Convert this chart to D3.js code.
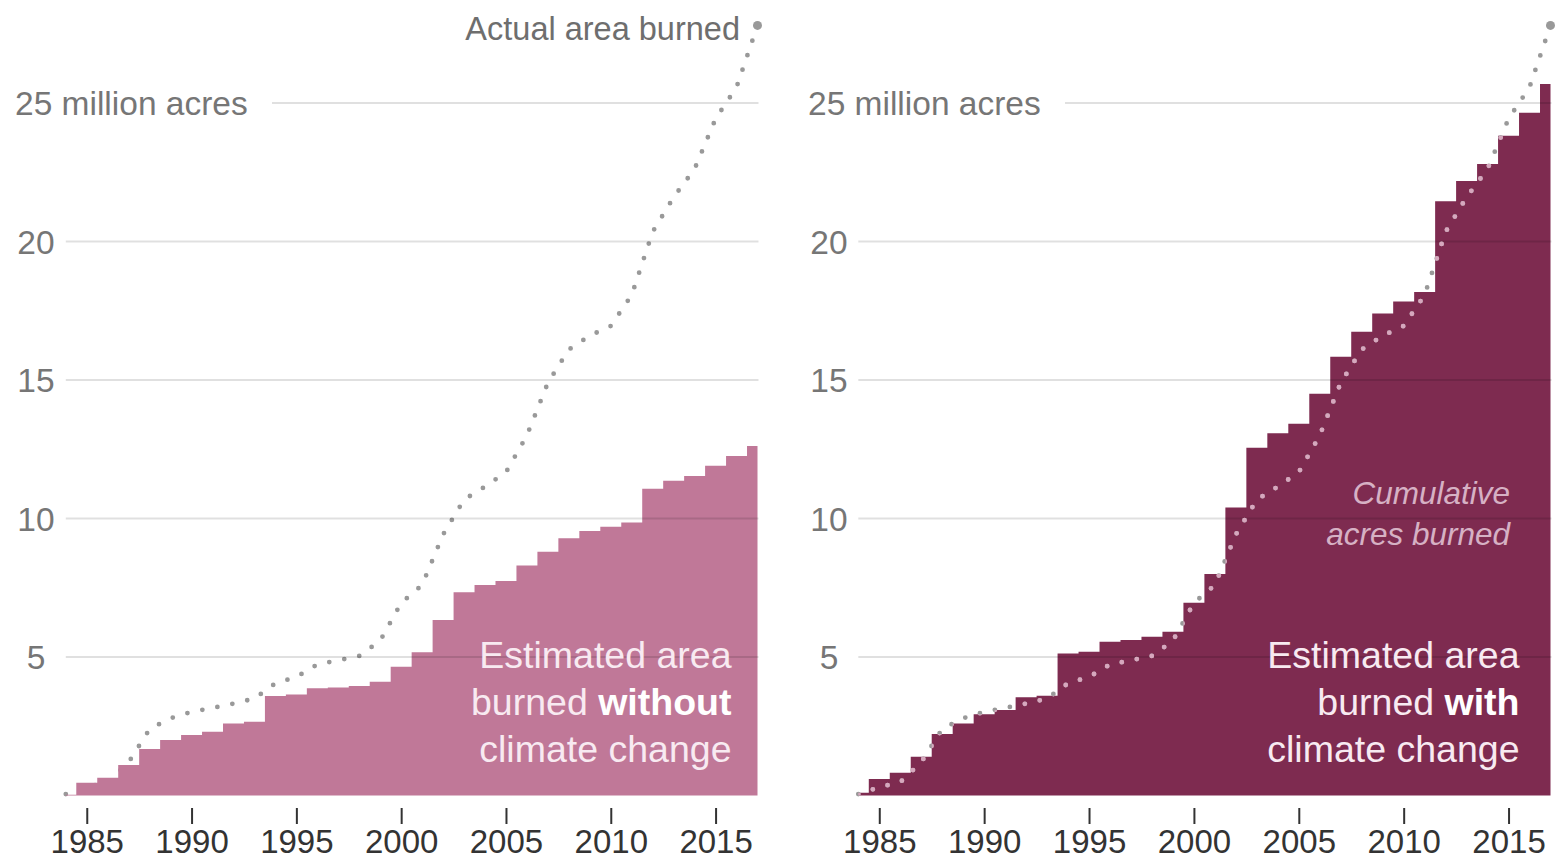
<!DOCTYPE html>
<html>
<head>
<meta charset="utf-8">
<script src="https://cdn.jsdelivr.net/npm/d3@7"></script>
<style>
  html, body { margin: 0; padding: 0; background: #fff; }
  svg { display: block; font-family: "Liberation Sans", Arial, sans-serif; }
</style>
</head>
<body>
<svg id="chart" width="1555" height="861"></svg>
<script>
// ---------------- DATA ----------------
const years = [1984, 1985, 1986, 1987, 1988, 1989, 1990, 1991, 1992, 1993,
               1994, 1995, 1996, 1997, 1998, 1999, 2000, 2001, 2002, 2003,
               2004, 2005, 2006, 2007, 2008, 2009, 2010, 2011, 2012, 2013,
               2014, 2015, 2016, 2017];

// Actual cumulative area burned (million acres)
const actualBurned = [0.05, 0.3, 0.48, 1.2, 2.4, 2.79, 3.02, 3.16, 3.32, 3.5,
                      4.05, 4.28, 4.73, 4.88, 5.04, 5.59, 6.95, 7.6, 9.42, 10.68,
                      11.15, 11.67, 13.0, 14.9, 16.1, 16.6, 16.95, 18.07, 20.35, 21.6,
                      22.62, 24.43, 25.57, 27.8];

// Estimated cumulative area burned without climate change
const withoutClimateChange = [0.03, 0.46, 0.64, 1.1, 1.68, 2.0, 2.18, 2.3, 2.6, 2.66,
                              3.59, 3.65, 3.87, 3.9, 3.95, 4.11, 4.65, 5.17, 6.34, 7.34,
                              7.6, 7.74, 8.3, 8.8, 9.29, 9.55, 9.7, 9.86, 11.07, 11.36,
                              11.53, 11.9, 12.26, 12.62];

// Estimated cumulative area burned with climate change
const withClimateChange = [0.1, 0.6, 0.82, 1.4, 2.22, 2.6, 2.93, 3.09, 3.55, 3.6,
                           5.13, 5.19, 5.55, 5.61, 5.73, 5.91, 6.96, 8.0, 10.4, 12.55,
                           13.08, 13.42, 14.5, 15.84, 16.74, 17.4, 17.83, 18.18, 21.45, 22.18,
                           22.8, 23.82, 24.65, 25.69];

const xTicks = [1985, 1990, 1995, 2000, 2005, 2010, 2015];
const yTicks = [5, 10, 15, 20, 25];
const yTickLabels = ["5", "10", "15", "20", "25 million acres"];

// ---------------- LAYOUT ----------------
const svg = d3.select("#chart");
const y = d3.scaleLinear().domain([0, 25]).range([795.5, 103]);

const panels = [
  { id: "without", x0: 65.8, x1: 757.5, labelX: 15, fill: "#c07898",
    values: withoutClimateChange, bold: "without", textEnd: 731.5, dotsOver: false },
  { id: "with", x0: 858.3, x1: 1550.5, labelX: 808, fill: "#7e2b50",
    values: withClimateChange, bold: "with", textEnd: 1519.5, dotsOver: true }
];

panels.forEach((p, pi) => {
  const g = svg.append("g");
  const x = d3.scaleLinear().domain([1984, 2017]).range([p.x0, p.x1]);

  const series = years.map((yr, i) => ({ yr, v: p.values[i], a: actualBurned[i] }));

  const area = d3.area()
    .x(d => x(d.yr)).y0(y(0)).y1(d => y(d.v))
    .curve(d3.curveStep);
  const line = d3.line()
    .x(d => x(d.yr)).y(d => y(d.a));

  const dotStyle = sel => sel
    .attr("fill", "none")
    .attr("stroke-width", 4.8)
    .attr("stroke-linecap", "round")
    .attr("stroke-dasharray", "0 15.3");

  if (!p.dotsOver) {
    g.append("path").datum(series).attr("d", line).call(dotStyle).attr("stroke", "#999");
  }

  g.append("path").datum(series).attr("d", area).attr("fill", p.fill);

  // gridlines
  yTicks.forEach((t, i) => {
    const startX = t === 25 ? p.labelX + 257 : p.x0;
    g.append("line")
      .attr("x1", startX).attr("x2", p.x1 + 1)
      .attr("y1", y(t)).attr("y2", y(t))
      .attr("stroke", "#000").attr("stroke-opacity", 0.12).attr("stroke-width", 2);
    g.append("text")
      .attr("x", t === 25 ? p.labelX : p.labelX + 21)
      .attr("y", y(t))
      .attr("dy", "0.36em")
      .attr("text-anchor", t === 25 ? "start" : "middle")
      .attr("font-size", 33.5)
      .attr("fill", "#767676")
      .text(yTickLabels[i]);
  });

  if (p.dotsOver) {
    const clipId = "clip-" + p.id;
    g.append("clipPath").attr("id", clipId)
      .append("path").datum(series).attr("d", area);
    g.append("path").datum(series).attr("d", line).call(dotStyle).attr("stroke", "#999");
    g.append("path").datum(series).attr("d", line).call(dotStyle)
      .attr("stroke", "#d7a7be").attr("clip-path", `url(#${clipId})`);
  }

  // end dot
  const last = series[series.length - 1];
  g.append("circle").attr("cx", x(last.yr)).attr("cy", y(last.a)).attr("r", 4.5).attr("fill", "#999");

  // x axis
  const axis = d3.axisBottom(x).tickValues(xTicks).tickFormat(d3.format("d")).tickSize(16).tickPadding(4);
  const ax = g.append("g").attr("transform", "translate(0,808)").call(axis);
  ax.select(".domain").remove();
  ax.selectAll(".tick line").attr("stroke", "#333").attr("stroke-width", 2);
  ax.selectAll(".tick text")
    .attr("y", 45).attr("dy", 0)
    .attr("font-size", 33)
    .attr("font-family", "'Liberation Sans', Arial, sans-serif")
    .attr("fill", "#333");

  // annotation inside the area
  const ann = g.append("text")
    .attr("text-anchor", "end")
    .attr("font-size", 37.5)
    .attr("fill", "#f8eaf1");
  ann.append("tspan").attr("x", p.textEnd).attr("y", 668).text("Estimated area");
  const l2 = ann.append("tspan").attr("x", p.textEnd).attr("y", 715);
  l2.append("tspan").text("burned ");
  l2.append("tspan").attr("font-weight", "bold").attr("fill", "#fff").text(p.bold);
  ann.append("tspan").attr("x", p.textEnd).attr("y", 761.5).text("climate change");

  if (pi === 0) {
    g.append("text")
      .attr("x", 740).attr("y", 40)
      .attr("text-anchor", "end")
      .attr("font-size", 32.5)
      .attr("fill", "#6e6e6e")
      .text("Actual area burned");
  } else {
    const c = g.append("text")
      .attr("text-anchor", "end")
      .attr("font-size", 31.5)
      .attr("font-style", "italic")
      .attr("fill", "#d6b1c4");
    c.append("tspan").attr("x", 1510).attr("y", 504).text("Cumulative");
    c.append("tspan").attr("x", 1510).attr("y", 545).text("acres burned");
  }
});
</script>
</body>
</html>
